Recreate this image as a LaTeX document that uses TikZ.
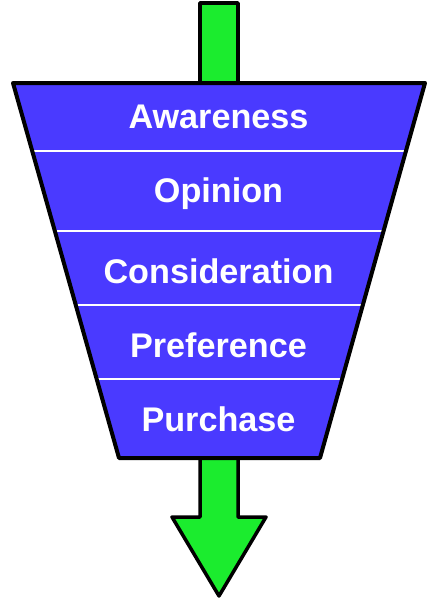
\documentclass[tikz,border=0pt]{standalone}
\usepackage{fontspec}
\setmainfont{Liberation Sans}
\definecolor{funnelblue}{RGB}{74,58,255}
\definecolor{arrowgreen}{RGB}{27,236,46}
\begin{document}
\begin{tikzpicture}[x=1pt,y=-1pt,
    stage/.style={text=white,font=\fontsize{34.2}{40}\selectfont\bfseries,anchor=base},
    arrowpart/.style={draw=black,fill=arrowgreen,line width=3.5pt,line join=round}]
  \useasboundingbox (0,0) rectangle (438,600);
  % arrows
  \draw[arrowpart] (200,83) -- (200,3) -- (238,3) -- (238,83);
  \draw[arrowpart] (200,456) -- (200,517) -- (172,517) -- (219,596) -- (266,517) -- (238,517) -- (238,456);
  % funnel
  \fill[funnelblue] (13,83) -- (425,83) -- (320,458) -- (119,458) -- cycle;
  \begin{scope}
    \clip (13,83) -- (425,83) -- (320,458) -- (119,458) -- cycle;
    \draw[white,line width=2pt] (0,151) -- (438,151);
    \draw[white,line width=2pt] (0,231) -- (438,231);
    \draw[white,line width=2pt] (0,305) -- (438,305);
    \draw[white,line width=2pt] (0,379) -- (438,379);
  \end{scope}
  \draw[line width=4pt,line join=round] (13,83) -- (425,83) -- (320,458) -- (119,458) -- cycle;
  \node[stage] (awareness) at (218.5,128) {Awareness};
  \node[stage] (opinion) at (218.5,202) {Opinion};
  \node[stage] (consideration) at (218.5,283) {Consideration};
  \node[stage] (preference) at (218.5,357) {Preference};
  \node[stage] (purchase) at (218.5,431) {Purchase};
\end{tikzpicture}
\end{document}
